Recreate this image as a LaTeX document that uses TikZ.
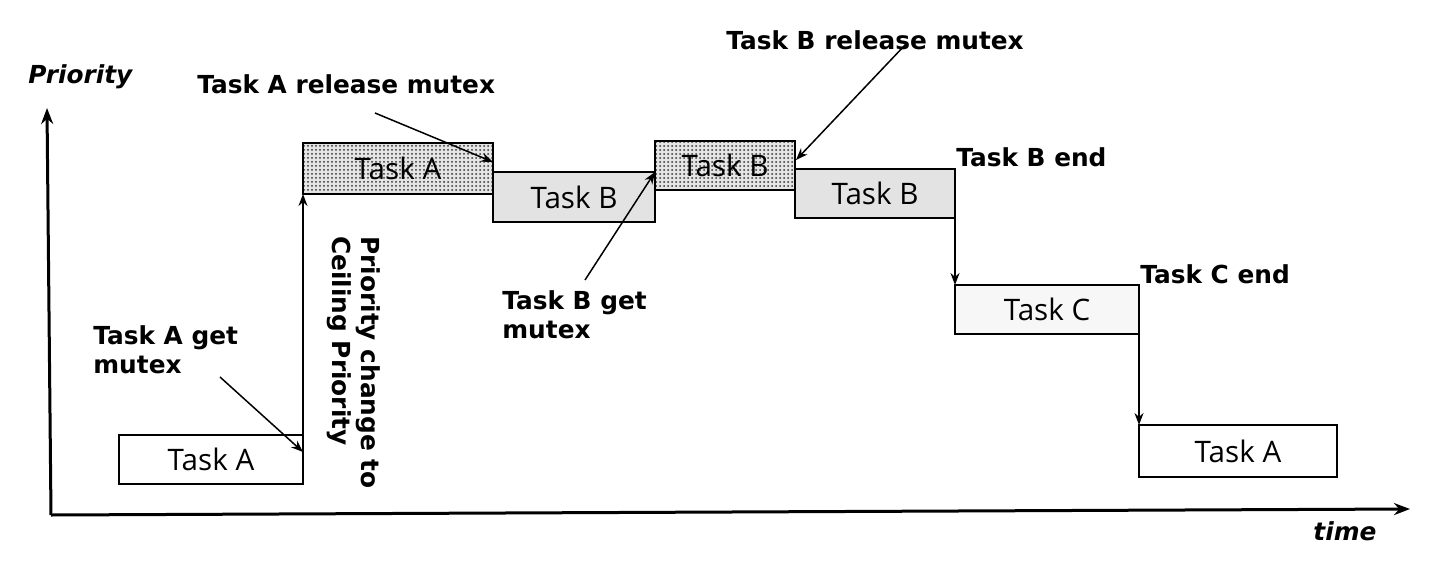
\documentclass[tikz,border=0pt]{standalone}
\usepackage{fontspec}
\setmainfont{DejaVu Sans}
\newfontfamily\boxfont{Open Sans}
\usetikzlibrary{arrows.meta,patterns.meta}
\begin{document}
\begin{tikzpicture}[x=0.5pt,y=-0.5pt,
  lbl/.style={font=\fontsize{12.4}{14.5}\selectfont\bfseries, inner sep=0pt, anchor=west},
  axlbl/.style={font=\fontsize{12.4}{14.5}\selectfont\bfseries\itshape, inner sep=0pt, anchor=west},
  taskbox/.style={draw=black, line width=0.8pt, outer sep=0pt, font=\boxfont\fontsize{14.8}{17}\selectfont, inner sep=0pt},
  plainbox/.style={taskbox, fill=white},
  lightbox/.style={taskbox, fill=gray!6},
  greybox/.style={taskbox, fill=gray!22},
  dotbox/.style={taskbox, preaction={fill=gray!20}, pattern={Dots[distance=2pt,radius=0.5pt]}, pattern color=black!80},
  conn/.style={-{Stealth[length=6pt,width=4.5pt]}, line width=0.75pt},
  axis/.style={-{Stealth[length=8pt,width=6pt]}, line width=1.5pt}
]
\useasboundingbox (0,0) rectangle (1440,578);
\fill[white] (0,0) rectangle (1440,578);

% axes
\coordinate (origin) at (51,515);
\coordinate (ytop) at (47,108);
\coordinate (xend) at (1410,509);
\draw[axis] (origin) -- (ytop);
\draw[axis] (origin) -- (xend);
\node[axlbl] (plabel) at (28,77) {Priority};
\node[axlbl] (tlabel) at (1313,531) {time};

% task boxes
\node[plainbox, minimum width=92pt, minimum height=24.5pt] (a1) at (211,459.5) {Task A};
\node[dotbox, minimum width=95pt, minimum height=25.5pt] (a2) at (398,168.5) {Task A};
\node[greybox, minimum width=81pt, minimum height=25pt] (b1) at (574,197) {Task B};
\node[dotbox, minimum width=70pt, minimum height=24.5pt] (b2) at (725,165.5) {Task B};
\node[greybox, minimum width=80pt, minimum height=24.5pt] (b3) at (875,193.5) {Task B};
\node[lightbox, minimum width=92pt, minimum height=24.5pt] (c1) at (1047,309.5) {Task C};
\node[plainbox, minimum width=99pt, minimum height=26pt] (a3) at (1238,451) {Task A};

% transitions
\draw[conn] (a1.north east) -- (a2.south west);
\draw[conn] (b3.south east) -- (c1.north west);
\draw[conn] (c1.south east) -- (a3.north west);

% labels
\node[lbl] (lrelA) at (197,84) {Task A release mutex};
\node[lbl] (lrelB) at (726,40) {Task B release mutex};
\node[lbl] (lendB) at (956,157) {Task B end};
\node[lbl] (lendC) at (1140,274) {Task C end};
\node[lbl, anchor=north west, align=left] (lgetB) at (502,290) {Task B get\\mutex};
\node[lbl, anchor=north west, align=left] (lgetA) at (93,325) {Task A get\\mutex};
\node[lbl, anchor=north west, align=left, rotate=-90] (lceil) at (381,236) {Priority change to\\Ceiling Priority};

% label pointers
\coordinate (pA1) at (220,377);
\coordinate (pA2) at (375,113);
\coordinate (pB1) at (585,280);
\coordinate (pB2) at (905,45);
\coordinate (tA1) at (303,452);
\coordinate (tA2) at (493,162);
\coordinate (tB2) at (796,160);
\draw[conn] (pA1) -- (tA1);
\draw[conn] (pA2) -- (tA2);
\draw[conn] (pB1) -- (b1.north east);
\draw[conn] (pB2) -- (tB2);
\end{tikzpicture}
\end{document}
